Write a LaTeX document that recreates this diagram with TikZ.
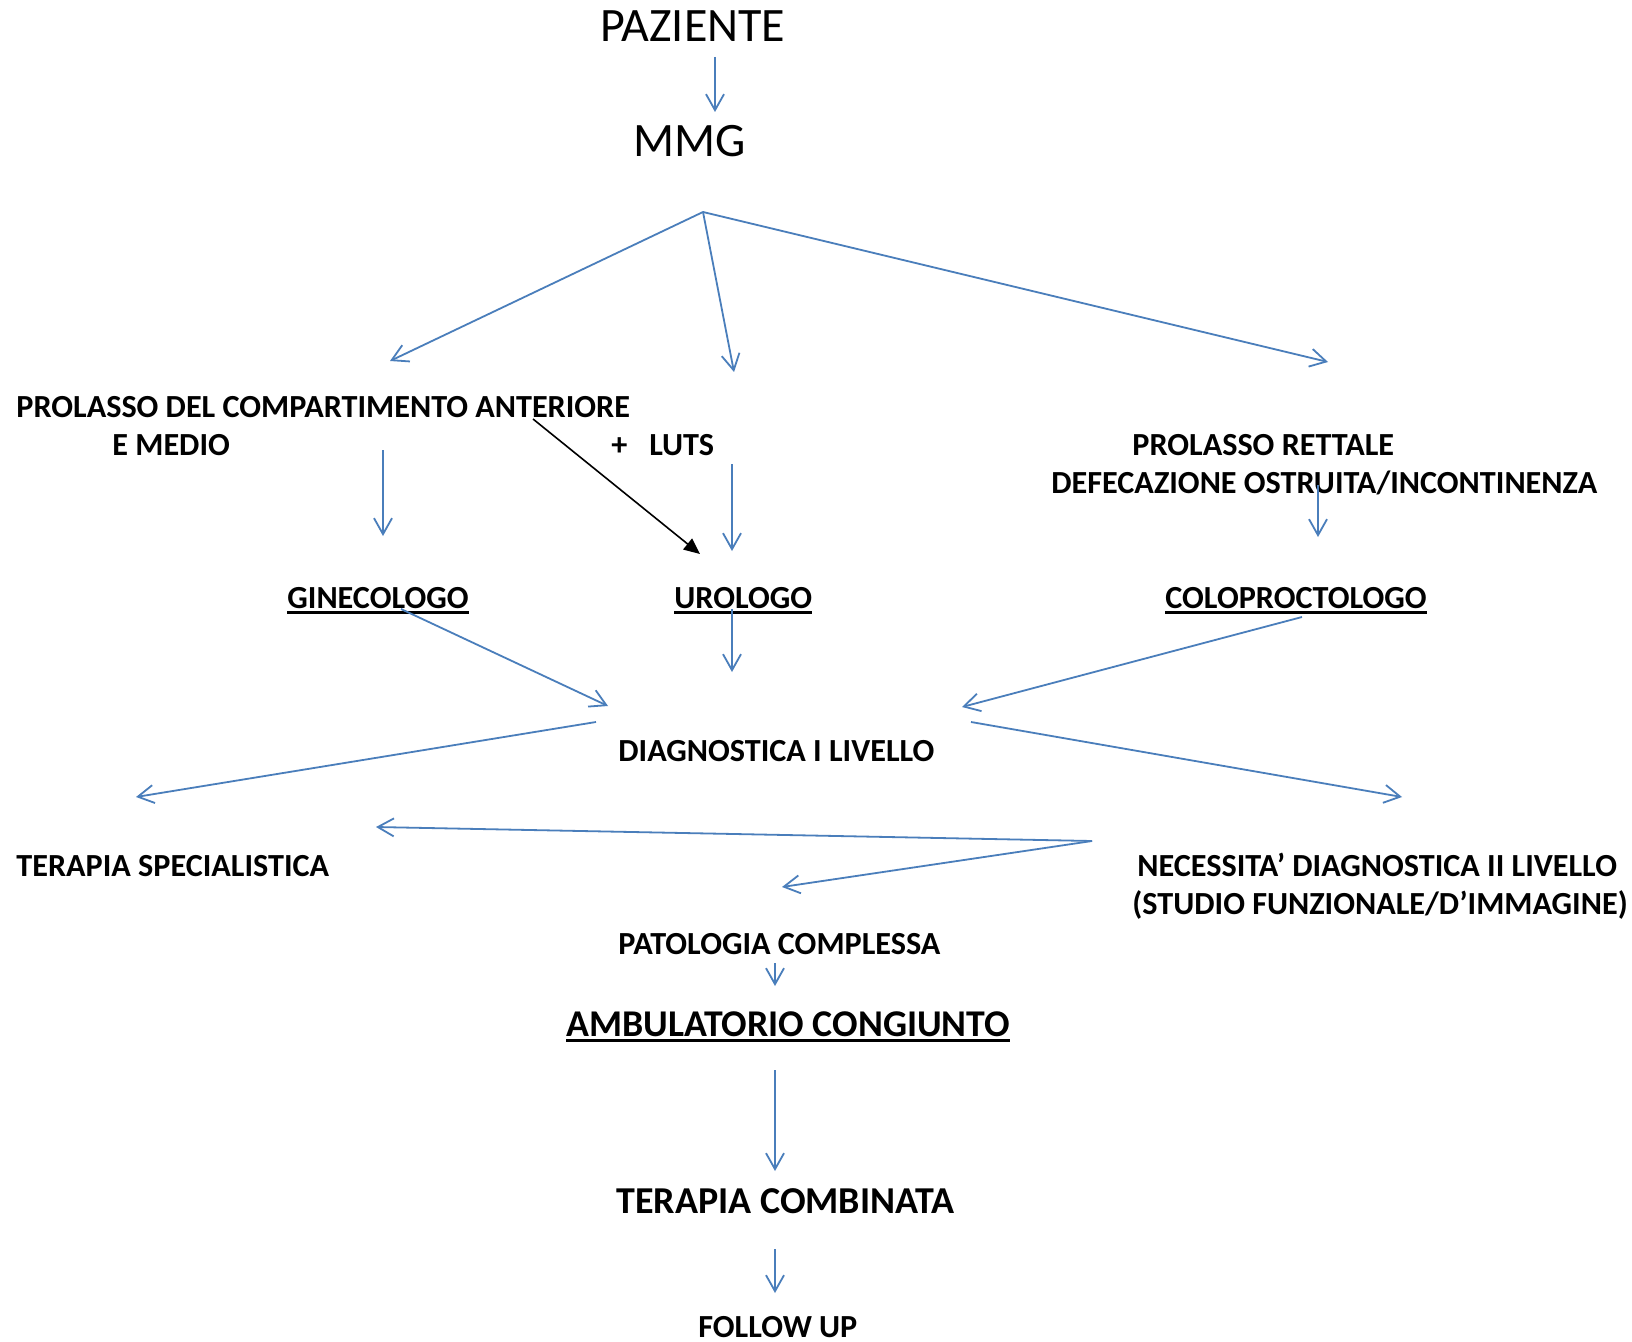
\documentclass[tikz,border=0pt]{standalone}
\usepackage{fontspec}
\setmainfont{Carlito}
\usetikzlibrary{arrows.meta, positioning}
\definecolor{wordblue}{RGB}{74,126,187}
\newcommand{\undl}[1]{\setbox0=\hbox{#1}\rlap{\rule[-3pt]{\wd0}{1.4pt}}\box0}
\tikzset{
  big/.style={font=\fontsize{24}{28}\selectfont, inner sep=0pt, anchor=base west},
  lbl/.style={font=\bfseries\fontsize{16.1}{19}\selectfont, inner sep=0pt, anchor=base west},
  flow/.style={draw=wordblue, line width=0.9pt, -{Straight Barb[length=8pt,width=9pt]}},
  jump/.style={draw=black, line width=0.8pt, -{Triangle[length=8pt,width=7pt]}}
}

\begin{document}
\begin{tikzpicture}[x=0.5pt, y=-0.5pt]
  \fill[white] (0,0) rectangle (1632,1342);
  \useasboundingbox (0,0) rectangle (1632,1342);

  % texts
  \node[big] (paz) at (600,42) {PAZIENTE};
  \node[big] (mmg) at (633,157) {MMG};
  \node[lbl] (ant) at (16,417) {PROLASSO DEL COMPARTIMENTO ANTERIORE};
  \node[lbl] (medio) at (112,455) {E MEDIO};
  \node[lbl] (luts) at (611,455) {+\ \ \ LUTS};
  \node[lbl] (rett) at (1132,455) {PROLASSO RETTALE};
  \node[lbl] (defec) at (1051,493) {DEFECAZIONE OSTRUITA/INCONTINENZA};
  \node[lbl] (gine) at (287,608) {\undl{GINECOLOGO}};
  \node[lbl] (uro) at (674,608) {\undl{UROLOGO}};
  \node[lbl] (colo) at (1165,608) {\undl{COLOPROCTOLOGO}};
  \node[lbl] (diag) at (618,761) {DIAGNOSTICA I LIVELLO};
  \node[lbl] (tspec) at (16,876) {TERAPIA SPECIALISTICA};
  \node[lbl] (neces) at (1137,876) {NECESSITA’ DIAGNOSTICA II LIVELLO};
  \node[lbl] (studio) at (1132,914) {(STUDIO FUNZIONALE/D’IMMAGINE)};
  \node[lbl] (patol) at (618,954) {PATOLOGIA COMPLESSA};
  \node[lbl, font=\bfseries\fontsize{18.9}{22}\selectfont] (ambu) at (566,1036) {\undl{AMBULATORIO CONGIUNTO}};
  \node[lbl, font=\bfseries\fontsize{19}{22}\selectfont] (tcomb) at (616,1213) {TERAPIA COMBINATA};
  \node[lbl] (follow) at (698,1337) {FOLLOW UP};

  % arrow ends
  \coordinate (paz-out) at (715,57);   \coordinate (mmg-in) at (715,112);
  \coordinate (mmg-fork) at (703,212);
  \coordinate (ant-in) at (390,361);   \coordinate (luts-in) at (734,372);
  \coordinate (rett-in) at (1328,362);
  \coordinate (ant-out) at (383,450);  \coordinate (gine-in) at (383,536);
  \coordinate (luts-out) at (732,464); \coordinate (uro-in) at (732,551);
  \coordinate (defec-out) at (1318,485); \coordinate (colo-in) at (1318,537);
  \coordinate (ant-jump) at (533,419); \coordinate (uro-jump) at (700,554);
  \coordinate (gine-out) at (401,609); \coordinate (diag-inl) at (608,706);
  \coordinate (uro-out) at (732,609);  \coordinate (diag-inm) at (732,672);
  \coordinate (colo-out) at (1302,617); \coordinate (diag-inr) at (962,707);
  \coordinate (diag-outl) at (596,722); \coordinate (tspec-in) at (136,797);
  \coordinate (diag-outr) at (971,722); \coordinate (neces-in) at (1402,797);
  \coordinate (neces-fork) at (1092,841);
  \coordinate (tspec-in2) at (376,827); \coordinate (patol-in) at (782,887);
  \coordinate (patol-out) at (775,963); \coordinate (ambu-in) at (775,986);
  \coordinate (ambu-out) at (775,1070); \coordinate (tcomb-in) at (775,1171);
  \coordinate (tcomb-out) at (775,1249); \coordinate (follow-in) at (775,1293);

  % connectors
  \draw[flow] (paz-out) -- (mmg-in);
  \draw[flow] (mmg-fork) -- (ant-in);
  \draw[flow] (mmg-fork) -- (luts-in);
  \draw[flow] (mmg-fork) -- (rett-in);
  \draw[flow] (ant-out) -- (gine-in);
  \draw[jump] (ant-jump) -- (uro-jump);
  \draw[flow] (luts-out) -- (uro-in);
  \draw[flow] (defec-out) -- (colo-in);
  \draw[flow] (gine-out) -- (diag-inl);
  \draw[flow] (uro-out) -- (diag-inm);
  \draw[flow] (colo-out) -- (diag-inr);
  \draw[flow] (diag-outl) -- (tspec-in);
  \draw[flow] (diag-outr) -- (neces-in);
  \draw[flow] (neces-fork) -- (tspec-in2);
  \draw[flow] (neces-fork) -- (patol-in);
  \draw[flow] (patol-out) -- (ambu-in);
  \draw[flow] (ambu-out) -- (tcomb-in);
  \draw[flow] (tcomb-out) -- (follow-in);
\end{tikzpicture}
\end{document}
